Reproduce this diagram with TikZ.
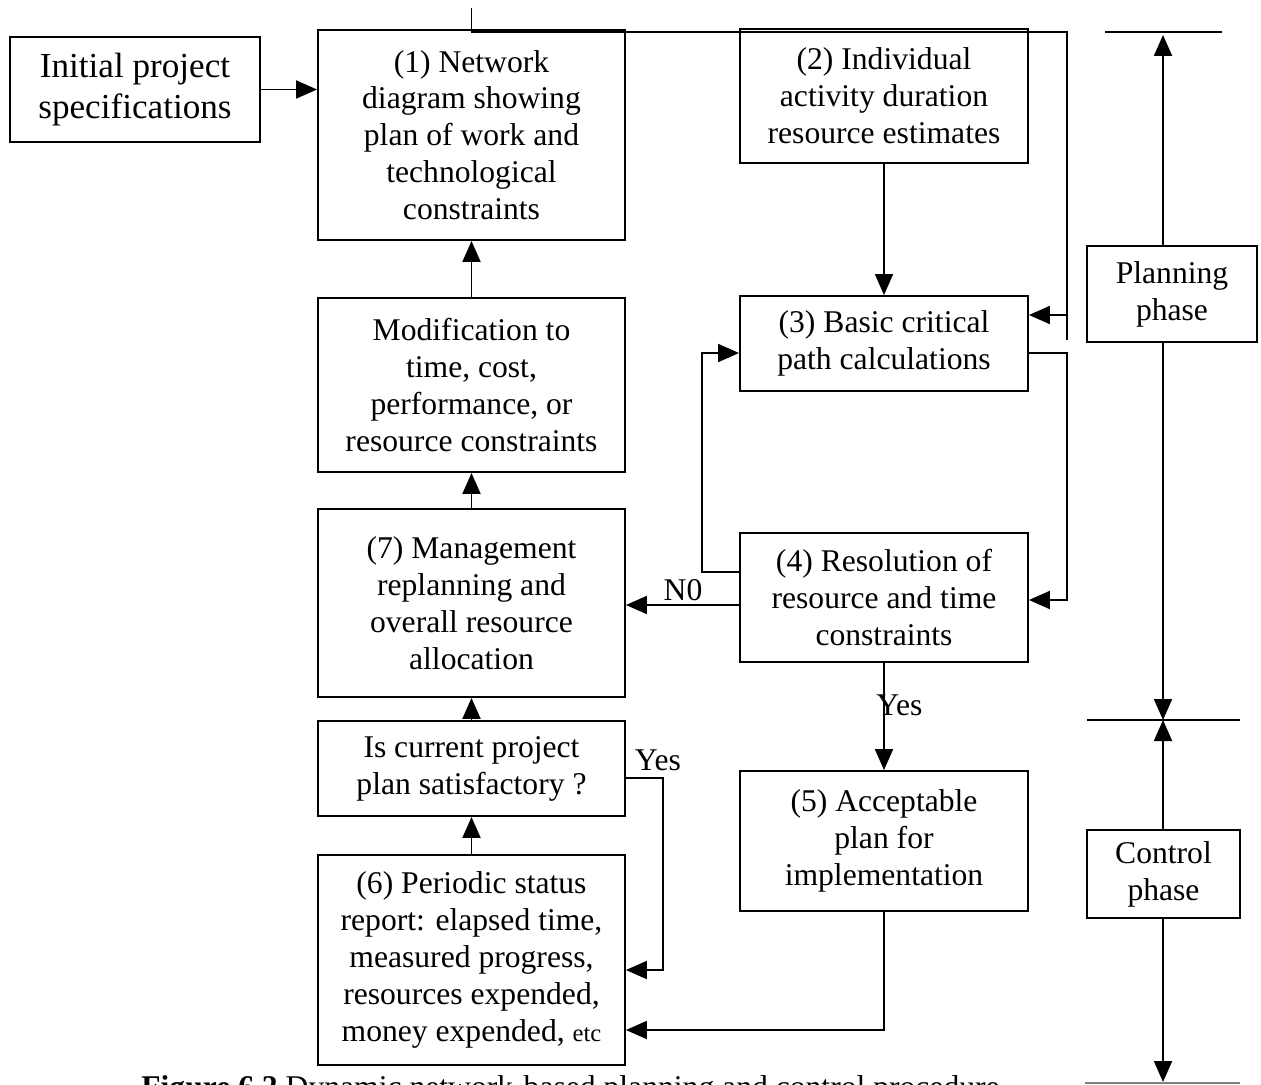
\documentclass[tikz,border=0pt]{standalone}
\usepackage{fontspec}
\setmainfont{Liberation Serif}
\usetikzlibrary{arrows.meta}

\begin{document}
\begin{tikzpicture}[x=0.02cm, y=-0.02cm,
	box/.style={draw, line width=1.1pt, align=center, inner sep=0pt, font=\fontsize{18}{21}\selectfont},
	arr/.style={line width=1.1pt, -{Triangle[length=0.42cm, width=0.36cm]}},
	wire/.style={line width=1.1pt},
	lbl/.style={inner sep=0pt, font=\fontsize{18}{21}\selectfont}]
	\useasboundingbox (0, 0) rectangle (1261, 1085);
	% Specification box
	\node [box, minimum width=5cm, minimum height=2.1cm, font=\fontsize{20}{23}\selectfont] (spec) at (135, 89.5) {Initial project\\specifications};
	% Left column
	\node [box, minimum width=6.14cm, minimum height=4.2cm] (box-1) at (471.5, 135) {(1) Network\\diagram showing\\plan of work and\\technological\\constraints};
	\node [box, minimum width=6.14cm, minimum height=3.48cm] (box-mod) at (471.5, 385) {Modification to\\time, cost,\\performance, or\\resource constraints};
	\node [box, minimum width=6.14cm, minimum height=3.76cm] (box-7) at (471.5, 603) {(7) Management\\replanning and\\overall resource\\allocation};
	\node [box, minimum width=6.14cm, minimum height=1.9cm] (box-sat) at (471.5, 768.5) {Is current project\\plan satisfactory ?};
	\node [box, minimum width=6.14cm, minimum height=4.2cm] (box-6) at (471.5, 960) {(6) Periodic status\\report: elapsed time,\\measured progress,\\resources expended,\\money expended, {\fontsize{14}{21}\selectfont etc}};
	% Right column
	\node [box, minimum width=5.76cm, minimum height=2.68cm] (box-2) at (884, 96) {(2) Individual\\activity duration\\resource estimates};
	\node [box, minimum width=5.76cm, minimum height=1.9cm] (box-3) at (884, 343.5) {(3) Basic critical\\path calculations};
	\node [box, minimum width=5.76cm, minimum height=2.58cm] (box-4) at (884, 597.5) {(4) Resolution of\\resource and time\\constraints};
	\node [box, minimum width=5.76cm, minimum height=2.8cm] (box-5) at (884, 841) {(5) Acceptable\\plan for\\implementation};
	% Phase boxes
	\node [box, minimum width=3.4cm, minimum height=1.92cm] (phase-plan) at (1172, 294) {Planning\\phase};
	\node [box, minimum width=3.06cm, minimum height=1.76cm] (phase-ctrl) at (1163.5, 874) {Control\\phase};
	% Bend points
	\coordinate (stub) at (471.5, 8);
	\coordinate (bus-l) at (471.5, 32);
	\coordinate (bus-r) at (1067, 32);
	\coordinate (bus-3) at (1067, 315);
	\coordinate (bus-end) at (1067, 340);
	\coordinate (loop-3) at (1067, 353);
	\coordinate (loop-4) at (1067, 600);
	\coordinate (no-bend) at (702, 572);
	\coordinate (no-top) at (702, 353);
	\coordinate (no-mid) at (683, 605);
	\coordinate (impl-corner) at (884, 1030);
	\coordinate (sat-out) at (663, 778);
	\coordinate (sat-in) at (663, 970);
	% Main flow
	\draw [arr] (spec.east) -- (spec.east -| box-1.west);
	\draw [arr] (box-2) -- (box-3);
	\draw [arr] (box-4) -- (box-5);
	\draw [arr] (box-6) -- (box-sat);
	\draw [arr] (box-sat) -- (box-7);
	\draw [arr] (box-7) -- (box-mod);
	\draw [arr] (box-mod) -- (box-1);
	% Feedback lines
	\draw [wire] (stub) -- (bus-l) -- (bus-r) -- (bus-end);
	\draw [arr] (bus-3) -- (bus-3 -| box-3.east);
	\draw [arr] (loop-3 -| box-3.east) -- (loop-3) -- (loop-4) -- (loop-4 -| box-4.east);
	\draw [arr] (no-bend -| box-4.west) -- (no-bend) -- (no-top) -- (no-top -| box-3.west);
	\draw [arr] (no-mid -| box-4.west) -- (no-mid -| box-7.east);
	\draw [arr] (box-5) -- (impl-corner) -- (impl-corner -| box-6.east);
	\draw [arr] (sat-out -| box-sat.east) -- (sat-out) -- (sat-in) -- (sat-in -| box-6.east);
	% Labels
	\node [lbl] (lbl-no) at (683, 590) {N0};
	\node [lbl, anchor=west] (lbl-yes-4) at (876, 705) {Yes};
	\node [lbl] (lbl-yes-sat) at (658, 760) {Yes};
	% Phase axis
	\coordinate (ph-top) at (1163, 35);
	\coordinate (ph-mid) at (1163, 720);
	\coordinate (ph-bot) at (1163, 1082);
	\draw [wire] (1105, 32) coordinate (tick-1a) -- (1222, 32) coordinate (tick-1b);
	\draw [wire] (1087, 720) coordinate (tick-2a) -- (1240, 720) coordinate (tick-2b);
	\draw [wire, gray] (1085, 1083) coordinate (tick-3a) -- (1240, 1083) coordinate (tick-3b);
	\draw [arr] (ph-top |- phase-plan.north) -- (ph-top);
	\draw [arr] (ph-mid |- phase-plan.south) -- (ph-mid);
	\draw [arr] (ph-mid |- phase-ctrl.north) -- (ph-mid);
	\draw [arr] (ph-bot |- phase-ctrl.south) -- (ph-bot);
	% Caption
	\node [lbl, anchor=base west] (caption) at (141, 1097) {\textbf{Figure 6.2} Dynamic network-based planning and control procedure};
\end{tikzpicture}
\end{document}
